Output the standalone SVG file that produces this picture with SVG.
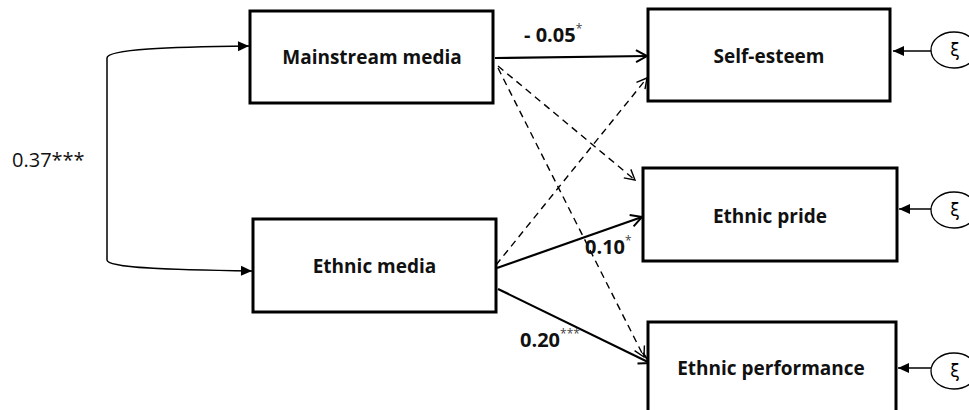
<svg xmlns="http://www.w3.org/2000/svg" width="969" height="410" viewBox="0 0 969 410">
<style>
.box{fill:#fff;stroke:#000;stroke-width:3}
.lbl{font-family:"Open Sans","Liberation Sans",sans-serif;font-weight:bold;font-size:19px;fill:#111;text-anchor:middle}
.coef{font-family:"Open Sans","Liberation Sans",sans-serif;font-weight:bold;font-size:20px;fill:#111}
.sup{font-size:12px;font-weight:normal;fill:#444}
.solid{fill:none;stroke:#000;stroke-width:2.2;marker-end:url(#open)}
.dash{fill:none;stroke:#000;stroke-width:1.4;stroke-dasharray:7 5;marker-end:url(#openthin)}
.err{fill:#fff;stroke:#000;stroke-width:1.3}
.xi{font-family:"DejaVu Sans","Liberation Sans",sans-serif;font-size:17px;fill:#000;text-anchor:middle}
.cov{fill:none;stroke:#000;stroke-width:1.5;marker-end:url(#filled)}
.res{fill:none;stroke:#000;stroke-width:1.5;marker-end:url(#filled)}
</style>
<defs>
<marker id="open" markerUnits="userSpaceOnUse" markerWidth="16" markerHeight="16" viewBox="-12 -8 14 16" refX="0" refY="0" orient="auto">
<path d="M-11,-6 L0,0 L-11,6" fill="none" stroke="#000" stroke-width="2"/>
</marker>
<marker id="openthin" markerUnits="userSpaceOnUse" markerWidth="16" markerHeight="16" viewBox="-12 -8 14 16" refX="0" refY="0" orient="auto">
<path d="M-10,-5.5 L0,0 L-10,5.5" fill="none" stroke="#000" stroke-width="1.4"/>
</marker>
<marker id="filled" markerUnits="userSpaceOnUse" markerWidth="14" markerHeight="14" viewBox="-12 -7 13 14" refX="0" refY="0" orient="auto">
<path d="M-11,-5 L0,0 L-11,5 Z" fill="#000"/>
</marker>
</defs>

<g id="connectors">
<path class="cov" d="M107,152 L107,58 C107,49 170,47 249,46"/>
<path class="cov" d="M107,152 L107,260 C107,268 170,270 252,271"/>
<path class="solid" d="M495,58 L647,56"/>
<path class="dash" d="M498,66 L635,180"/>
<path class="dash" d="M498,68 L644,357"/>
<path class="dash" d="M496,265 L647,78"/>
<path class="solid" d="M497,268 L642,217"/>
<path class="solid" d="M498,289 L650,363"/>
<path class="res" d="M931,51 L893,51"/>
<path class="res" d="M931,209 L899,209"/>
<path class="res" d="M931,368 L898,368"/>
<text x="12" y="167" font-family="Open Sans, Liberation Sans, sans-serif" font-size="20" fill="#111">0.37***</text>
<text class="coef" x="524" y="42">- 0.05<tspan class="sup" dy="-9">*</tspan></text>
<text class="coef" x="585" y="254">0.10<tspan class="sup" dy="-9">*</tspan></text>
<text class="coef" x="520" y="347">0.20<tspan class="sup" dy="-9">***</tspan></text>
</g>

<g id="mainstream-media">
<rect class="box" x="250" y="11" width="243" height="92"/>
<text class="lbl" x="372" y="64">Mainstream media</text>
</g>
<g id="ethnic-media">
<rect class="box" x="253" y="219" width="243" height="93"/>
<text class="lbl" x="374.5" y="273">Ethnic media</text>
</g>
<g id="self-esteem">
<rect class="box" x="648" y="9" width="242" height="92"/>
<text class="lbl" x="769" y="63">Self-esteem</text>
</g>
<g id="ethnic-pride">
<rect class="box" x="643" y="168" width="254" height="93"/>
<text class="lbl" x="770" y="223">Ethnic pride</text>
</g>
<g id="ethnic-performance">
<rect class="box" x="648" y="322" width="248" height="110"/>
<text class="lbl" x="771" y="375">Ethnic performance</text>
</g>
<g id="xi-1">
<ellipse class="err" cx="954" cy="50" rx="23" ry="18"/>
<text class="xi" x="955" y="56">ξ</text>
</g>
<g id="xi-2">
<ellipse class="err" cx="954" cy="210" rx="23" ry="18"/>
<text class="xi" x="955" y="216">ξ</text>
</g>
<g id="xi-3">
<ellipse class="err" cx="954" cy="371" rx="23" ry="18"/>
<text class="xi" x="955" y="377">ξ</text>
</g>
</svg>
